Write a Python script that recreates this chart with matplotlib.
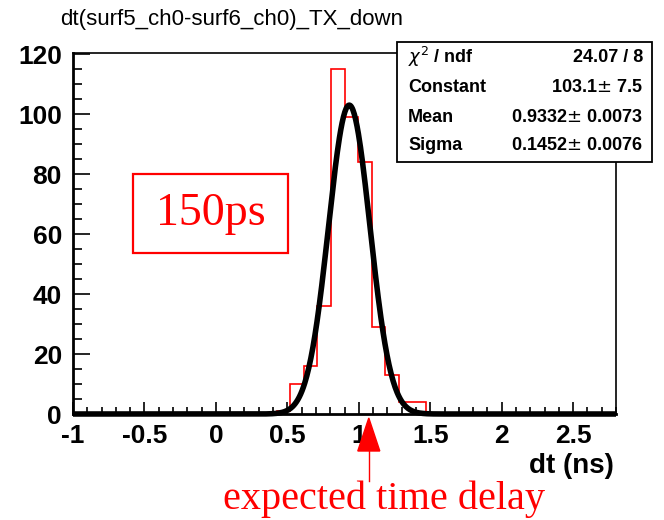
import numpy as np
import matplotlib
matplotlib.use("Agg")
import matplotlib.pyplot as plt
from matplotlib.patches import Rectangle, Polygon
from matplotlib.ticker import MultipleLocator, FuncFormatter

# ---- data ----
x_low, x_high, n_bins = -1.0, 2.8, 40
counts = [0, 0, 0, 0, 0, 0, 0, 0, 0, 0,
          0, 0, 0, 0, 0, 1, 10, 16, 36, 115,
          99, 84, 29, 13, 4, 4, 0, 0, 0, 0,
          0, 0, 0, 0, 0, 0, 0, 0, 0, 0]
fit_constant = 103.1
fit_mean = 0.9332
fit_sigma = 0.1452
stats_labels = ["$\\chi^{2}$ / ndf", "Constant", "Mean", "Sigma"]
stats_values = ["24.07 / 8", "103.1$\\pm$ 7.5", "0.9332$\\pm$ 0.0073", "0.1452$\\pm$ 0.0076"]
title = "dt(surf5_ch0-surf6_ch0)_TX_down"
xlabel = "dt (ns)"
expected_delay = 1.07
y_max = 120.5

W, H = 664, 520
fig = plt.figure(figsize=(W / 100, H / 100), dpi=100)
L, R, T, B = 73, 616, 53, 414
ax = fig.add_axes([L / W, 1 - B / H, (R - L) / W, (B - T) / H])

edges = np.linspace(x_low, x_high, n_bins + 1)
ax.stairs(counts, edges, color="#ff0000", lw=1.2, zorder=2)

xf = np.linspace(x_low, x_high, 800)
yf = fit_constant * np.exp(-0.5 * ((xf - fit_mean) / fit_sigma) ** 2)
ax.plot(xf, yf, color="black", lw=4.0, zorder=3, clip_on=False, solid_capstyle="butt")

ax.set_xlim(x_low, x_high)
ax.set_ylim(0, y_max)

ax.xaxis.set_major_locator(MultipleLocator(0.5))
ax.xaxis.set_minor_locator(MultipleLocator(0.1))
ax.yaxis.set_major_locator(MultipleLocator(20))
ax.yaxis.set_minor_locator(MultipleLocator(5))
ax.xaxis.set_major_formatter(FuncFormatter(lambda v, p: ("%g" % v) if v < 2.75 else ""))

ax.tick_params(axis="both", which="both", direction="in", top=False, right=False, width=1.2)
ax.tick_params(axis="x", which="major", length=8.5, pad=7)
ax.tick_params(axis="x", which="minor", length=5)
ax.tick_params(axis="y", which="major", length=12, pad=8)
ax.tick_params(axis="y", which="minor", length=6.5)
for lab in ax.get_xticklabels() + ax.get_yticklabels():
    lab.set_fontfamily("Liberation Sans")
    lab.set_fontweight("bold")
    lab.set_fontsize(19)

for s in ["left", "bottom"]:
    ax.spines[s].set_linewidth(2)
for s in ["top", "right"]:
    ax.spines[s].set_linewidth(1.2)

fig.text(614 / W, 1 - 466 / H, xlabel, ha="right", va="center",
         family="Liberation Sans", weight="bold", size=20)
fig.text(60 / W, 1 - 20 / H, title, ha="left", va="center",
         family="Liberation Sans", size=16)

# stats box
bx0, bx1, by0, by1 = 397, 652, 42, 162
fig.add_artist(Rectangle((bx0 / W, 1 - by1 / H), (bx1 - bx0) / W, (by1 - by0) / H,
                         transform=fig.transFigure, facecolor="white",
                         edgecolor="black", lw=1.3, zorder=10))
row_y = [57, 87, 117, 146]
for lab, val, yy in zip(stats_labels, stats_values, row_y):
    fig.text(408 / W, 1 - yy / H, lab, ha="left", va="center", zorder=11,
             family="Liberation Sans", weight="bold", size=13)
    fig.text(643 / W, 1 - yy / H, val, ha="right", va="center", zorder=11,
             family="Liberation Sans", weight="bold", size=13)

# 150ps box
fig.add_artist(Rectangle((133 / W, 1 - 253 / H), (288 - 133) / W, (253 - 174) / H,
                         transform=fig.transFigure, facecolor="none",
                         edgecolor="#ff0000", lw=1.6, zorder=10))
fig.text(211 / W, 1 - 214 / H, "150ps", ha="center", va="center", color="#ff0000",
         family="Liberation Serif", size=33, zorder=11)

# expected delay arrow
trans = ax.get_xaxis_transform()
xpix = ax.transData.transform((expected_delay, 0))[0]
axy = lambda py: (B - py) / (B - T)
ax_tx = lambda px: ax.transData.inverted().transform((px, 0))[0]
tri = Polygon([(expected_delay, axy(418)),
               (ax_tx(xpix - 11), axy(451)),
               (ax_tx(xpix + 11), axy(451))],
              closed=True, transform=trans, facecolor="#ff0000",
              edgecolor="#ff0000", clip_on=False, zorder=5)
ax.add_patch(tri)
ax.plot([expected_delay, expected_delay], [axy(451), axy(481)], transform=trans,
        color="#ff0000", lw=1.0, clip_on=False)
fig.text(384 / W, 1 - 499 / H, "expected time delay", ha="center", va="center",
         color="#ff0000", family="Liberation Serif", size=29)

fig.savefig("out.png", dpi=100)
